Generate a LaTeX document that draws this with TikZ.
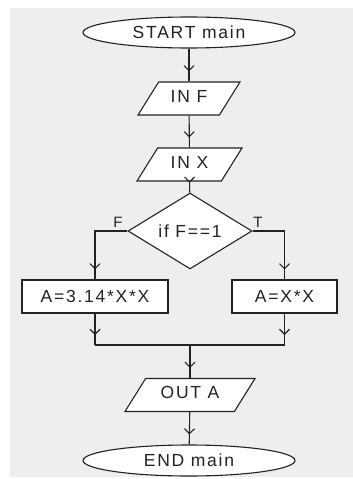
\documentclass[tikz,border=0pt]{standalone}
\usepackage{fontspec}
\newfontfamily\chartfont{Liberation Sans}[LetterSpace=10]
\usetikzlibrary{shapes.geometric, arrows.meta, decorations.markings}

\definecolor{panel}{HTML}{EEEEEE}
\definecolor{ink}{HTML}{222222}

\begin{document}
\begin{tikzpicture}[x=1pt,y=-1pt,
  term/.style={ellipse,draw=ink,fill=white,line width=1.1pt,inner sep=0pt, minimum width=212pt,minimum height=31pt,font=\chartfont\fontsize{17.5}{20}\selectfont,text=ink},
  io/.style={trapezium,trapezium left angle=58,trapezium right angle=122,trapezium stretches body,draw=ink,fill=white,line width=1.1pt,inner xsep=0pt,inner ysep=0pt, text height=20pt,text depth=13pt,font=\chartfont\fontsize{17.5}{20}\selectfont,text=ink},
  proc/.style={rectangle,draw=ink,fill=white,line width=1.1pt,inner sep=0pt, minimum height=33pt,font=\chartfont\fontsize{17.5}{20}\selectfont,text=ink},
  dec/.style={diamond,draw=ink,fill=white,line width=1.1pt,inner sep=0pt, minimum width=124pt,minimum height=48pt,font=\chartfont\fontsize{17.5}{20}\selectfont,text=ink},
  lbl/.style={font=\chartfont\fontsize{15}{18}\selectfont,text=ink,inner sep=0pt},
  line/.style={draw=ink,line width=1.1pt},
  arr/.style={line,postaction={decorate},decoration={markings,
    mark=at position -10pt with {\arrow[ink,line width=1.1pt]{Straight Barb[length=5pt,width=10pt]}}}}
]
  \useasboundingbox (0,0) rectangle (353,479);
  \fill[panel] (10,8) rectangle (353,477);

  \node[term](st)  at (189,32.5) {START main};
  \node[io]  (inf) at (189,98.5) [minimum width=102pt] {IN F};
  \node[io]  (inx) at (189.5,164.5) [minimum width=105pt] {IN X};
  \node[dec] (ifd) at (190,231) {if F==1};
  \node[proc](pa)  at (95,296.5) [minimum width=146pt] {A=3.14*X*X};
  \node[proc](pb)  at (284.5,296.5) [minimum width=105pt] {A=X*X};
  \node[io]  (out) at (190,395) [minimum width=130pt] {OUT A};
  \node[term](en)  at (189,460.5) {END main};
  \node[lbl] (lf)  at (118,222) {F};
  \node[lbl] (lt)  at (258,222) {T};

  \coordinate (ml) at (95,345);
  \coordinate (mr) at (284.5,345);
  \coordinate (mm) at (190,345);

  \draw[arr](st)--(inf);
  \draw[arr](inf)--(inx);
  \draw[arr](inx)--(ifd);
  \draw[arr](ifd.west) -| (pa.north);
  \draw[arr](ifd.east) -| (pb.north);
  \draw[arr](pa)--(ml);
  \draw[arr](pb)--(mr);
  \draw[line](ml)--(mr);
  \draw[arr](mm)--(out);
  \draw[arr](out)--(en);
\end{tikzpicture}
\end{document}
